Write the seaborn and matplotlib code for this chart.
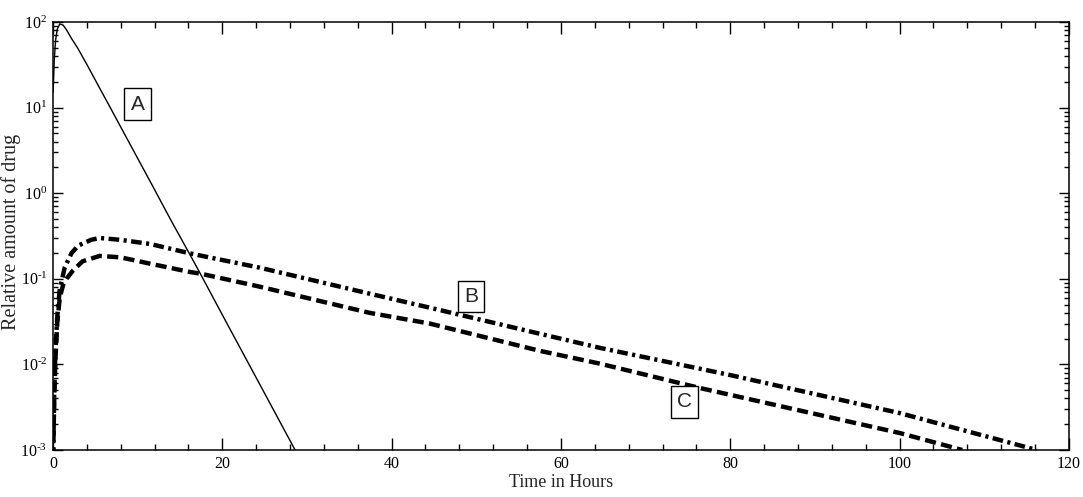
import numpy as np
import pandas as pd
import matplotlib
matplotlib.use("Agg")
import matplotlib.pyplot as plt
import seaborn as sns
from matplotlib.ticker import MultipleLocator, LogLocator, NullFormatter, FuncFormatter

# =============================================
# DATA
# =============================================
time_a = [0.02, 0.15, 0.3, 0.5, 0.8, 1.2, 1.6, 2.2, 2.9, 4.0, 5.5, 6.7,
          9.0, 11.8, 14.0, 16.2, 17.4, 20.0, 24.0, 28.6]
amount_a = [15, 35, 60, 82, 95, 92, 81, 64, 50, 32, 17, 10.3,
            3.9, 1.2, 0.47, 0.19, 0.115, 0.038, 0.0070, 0.001]

time_b = [0.02, 0.15, 0.3, 0.5, 0.8, 1.4, 2.2, 3.0, 4.5, 5.5, 8.0, 11.5,
          16.2, 17.4, 24.4, 37.4, 44.5, 57.5, 64.6, 80.0, 100.0, 116.2]
amount_b = [0.0008, 0.005, 0.015, 0.035, 0.075, 0.137, 0.20, 0.245, 0.285, 0.30,
            0.285, 0.255, 0.198, 0.187, 0.135, 0.067, 0.046, 0.0228, 0.0156,
            0.0075, 0.0027, 0.001]

time_c = [0.02, 0.15, 0.3, 0.5, 0.8, 1.2, 1.6, 2.4, 3.5, 5.5, 8.0, 11.5,
          16.2, 17.4, 24.4, 37.4, 44.5, 57.5, 64.6, 76.4, 100.0, 107.4]
amount_c = [0.0008, 0.004, 0.012, 0.03, 0.06, 0.085, 0.10, 0.126, 0.16, 0.185,
            0.178, 0.15, 0.12, 0.115, 0.081, 0.040, 0.030, 0.0144, 0.0102,
            0.0053, 0.00158, 0.001]

labels = ["A", "B", "C"]
label_t = [10.0, 49.4, 74.6]
label_v = [11.0, 0.062, 0.00365]


def pow10_label(val, pos):
    # short hyphen in the exponent, like the original figure
    e = int(round(np.log10(val)))
    sign = '\u2010' if e < 0 else ''
    return '$10^{%s%d}$' % (sign, abs(e))


# =============================================
# PLOT
# =============================================
sns.set_style("ticks")
plt.rcParams['font.family'] = ['Liberation Serif', 'DejaVu Serif']
plt.rcParams['mathtext.fontset'] = 'custom'
plt.rcParams['mathtext.rm'] = 'Liberation Serif'
plt.rcParams['mathtext.it'] = 'Liberation Serif'

fig = plt.figure(figsize=(10.83, 4.97), dpi=100)
ax = fig.add_axes([0.0489, 0.0946, 0.9381, 0.8611])

sns.lineplot(x=time_a, y=amount_a, ax=ax, color='black', lw=1.0,
             solid_capstyle='butt')
sns.lineplot(x=time_b, y=amount_b, ax=ax, color='black', lw=3.2,
             linestyle=(0, (2.4, 1.0, 0.7, 1.0)), dash_capstyle='butt')
sns.lineplot(x=time_c, y=amount_c, ax=ax, color='black', lw=3.2,
             linestyle=(0, (2.5, 1.2)), dash_capstyle='butt')

ax.set_yscale('log')
ax.set_xlim(0, 120)
ax.set_ylim(1e-3, 1e2)

ax.xaxis.set_major_locator(MultipleLocator(20))
ax.xaxis.set_minor_locator(MultipleLocator(4))
ax.yaxis.set_major_locator(LogLocator(base=10, numticks=10))
ax.yaxis.set_major_formatter(FuncFormatter(pow10_label))
ax.yaxis.set_minor_locator(LogLocator(base=10, subs=np.arange(2, 10), numticks=20))
ax.yaxis.set_minor_formatter(NullFormatter())

ax.tick_params(which='both', direction='in', top=True, right=True,
               colors='black', width=1.0, pad=4)
ax.tick_params(axis='x', which='major', length=8.5, labelsize=11.5)
ax.tick_params(axis='x', which='minor', length=4.3)
ax.tick_params(axis='y', which='major', length=7.5, labelsize=11.5, pad=4)
ax.tick_params(axis='y', which='minor', length=3.8)

for side in ax.spines.values():
    side.set_linewidth(1.1)
    side.set_color('black')

ax.set_xlabel('Time in Hours', fontsize=13, labelpad=2)
ax.set_ylabel('Relative amount of drug', fontsize=14.5)
ax.yaxis.label.set_va('center')
ax.yaxis.set_label_coords(-0.041, 0.51)

for lab, t, v in zip(labels, label_t, label_v):
    ax.text(t, v, lab, ha='center', va='center', fontsize=15,
            family='Liberation Sans',
            bbox=dict(boxstyle='square,pad=0.3', fc='white', ec='black', lw=1.0))

fig.savefig('out.png', dpi=100)
